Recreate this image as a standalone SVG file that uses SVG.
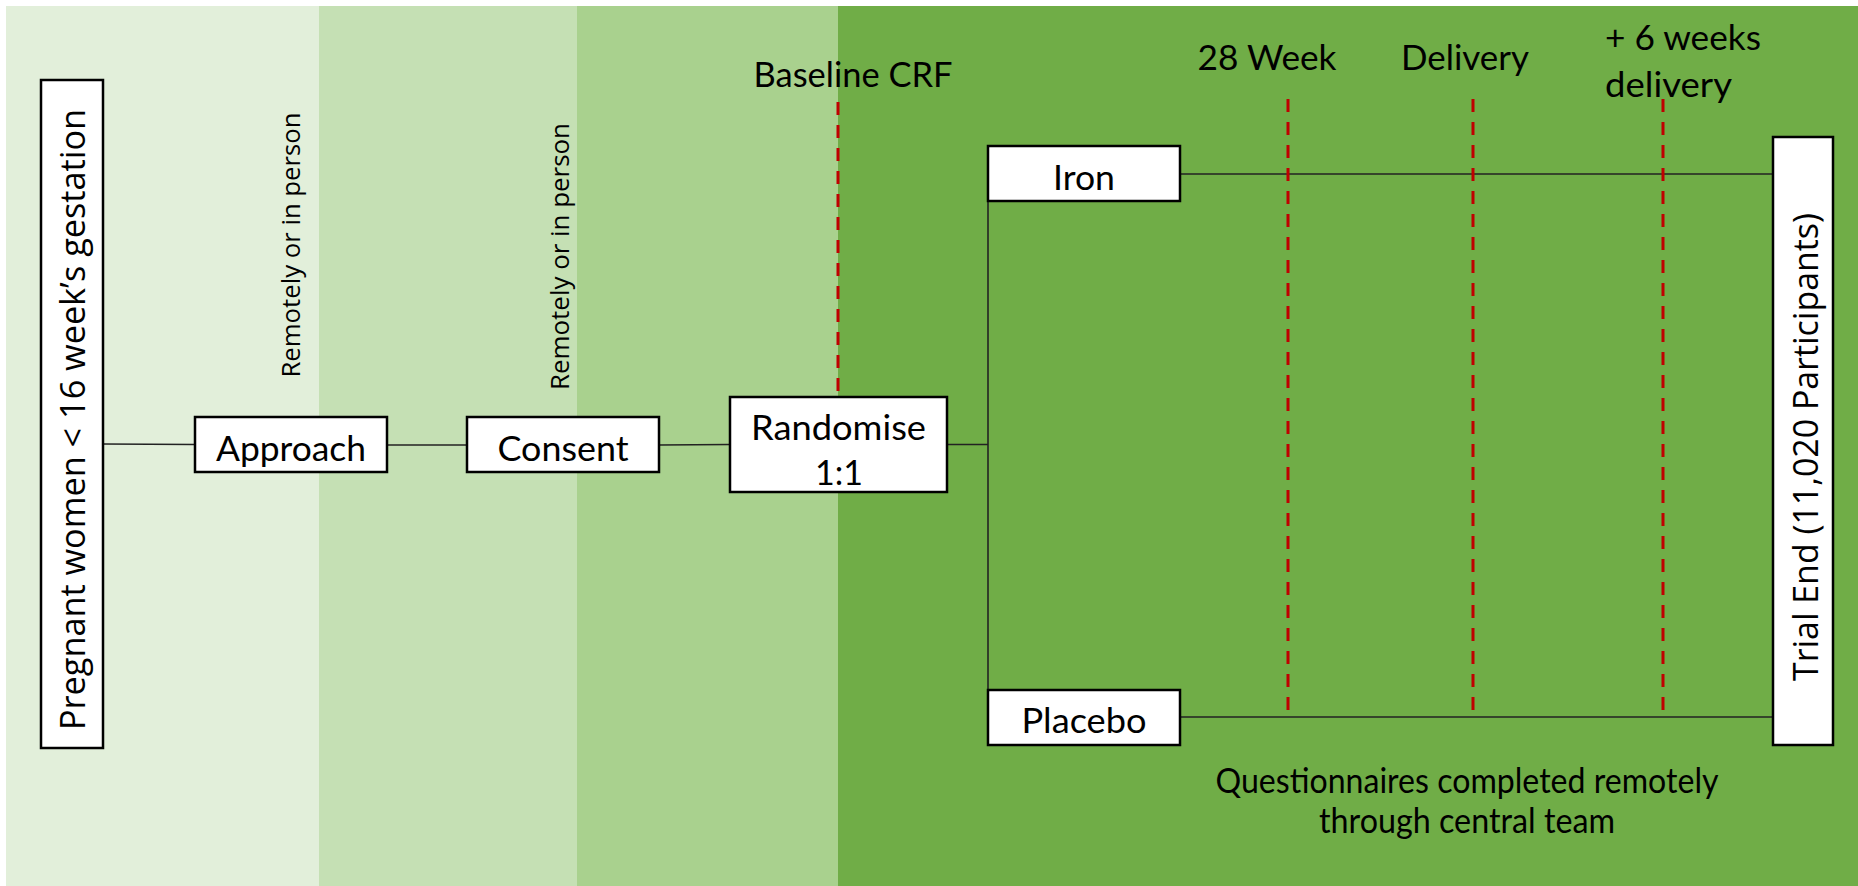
<svg xmlns="http://www.w3.org/2000/svg" width="1858" height="886" viewBox="0 0 1858 886">
<style>
.box{fill:#fff;stroke:#000;stroke-width:2.5}
.conn{stroke:#222;stroke-width:1.6;fill:none}
.dash{stroke:#C00000;stroke-width:3;stroke-dasharray:13 10;fill:none}
.lbl{font-family:Lato,"Liberation Sans",sans-serif;font-size:34px;fill:#000;text-anchor:middle}
.rot{font-family:"Open Sans","DejaVu Sans",sans-serif;fill:#000;text-anchor:middle}
</style>
<rect x="0" y="0" width="1858" height="886" fill="#fff"/>
<g id="bands">
<rect x="6" y="6" width="313" height="880" fill="#E2EFDA"/>
<rect x="319" y="6" width="258" height="880" fill="#C5E0B4"/>
<rect x="577" y="6" width="261" height="880" fill="#A9D18E"/>
<rect x="838" y="6" width="1020" height="880" fill="#70AD47"/>
</g>
<g id="connectors">
<line class="conn" x1="103" y1="444" x2="195" y2="444.5"/>
<line class="conn" x1="387" y1="445" x2="467" y2="445"/>
<line class="conn" x1="659" y1="445" x2="730" y2="444.5"/>
<line class="conn" x1="947" y1="444.5" x2="988" y2="444.5"/>
<line class="conn" x1="988" y1="201" x2="988" y2="690"/>
<line class="conn" x1="1180" y1="174" x2="1773" y2="174"/>
<line class="conn" x1="1180" y1="717" x2="1773" y2="717"/>
</g>
<g id="timepoints">
<line class="dash" x1="838" y1="102" x2="838" y2="397"/>
<line class="dash" x1="1288" y1="99" x2="1288" y2="717"/>
<line class="dash" x1="1473" y1="99" x2="1473" y2="717"/>
<line class="dash" x1="1663" y1="99" x2="1663" y2="717"/>
<text class="lbl" x="853" y="87" textLength="199" lengthAdjust="spacingAndGlyphs">Baseline CRF</text>
<text class="lbl" x="1267" y="70" textLength="139" lengthAdjust="spacingAndGlyphs">28 Week</text>
<text class="lbl" x="1465" y="70" textLength="128" lengthAdjust="spacingAndGlyphs">Delivery</text>
<text class="lbl" x="1605" y="50" style="text-anchor:start" textLength="156" lengthAdjust="spacingAndGlyphs">+ 6 weeks</text>
<text class="lbl" x="1605" y="97" style="text-anchor:start" textLength="127" lengthAdjust="spacingAndGlyphs">delivery</text>
</g>
<g id="pregnant">
<rect class="box" x="41" y="80" width="62" height="668"/>
<text class="rot" font-size="34" transform="translate(85,419.5) rotate(-90)" textLength="621" lengthAdjust="spacingAndGlyphs">Pregnant women &lt; 16 week’s gestation</text>
</g>
<g id="note1">
<text class="rot" font-size="25" transform="translate(300,245) rotate(-90)" textLength="265" lengthAdjust="spacingAndGlyphs">Remotely or in person</text>
</g>
<g id="note2">
<text class="rot" font-size="25" transform="translate(569,256.5) rotate(-90)" textLength="267" lengthAdjust="spacingAndGlyphs">Remotely or in person</text>
</g>
<g id="approach">
<rect class="box" x="195" y="417" width="192" height="55"/>
<text class="lbl" x="291" y="461" textLength="150" lengthAdjust="spacingAndGlyphs">Approach</text>
</g>
<g id="consent">
<rect class="box" x="467" y="417" width="192" height="55"/>
<text class="lbl" x="563" y="461" textLength="131" lengthAdjust="spacingAndGlyphs">Consent</text>
</g>
<g id="randomise">
<rect class="box" x="730" y="397" width="217" height="95"/>
<text class="lbl" x="838.5" y="440" textLength="175" lengthAdjust="spacingAndGlyphs">Randomise</text>
<text class="lbl" x="839" y="485" textLength="48" lengthAdjust="spacingAndGlyphs">1:1</text>
</g>
<g id="iron">
<rect class="box" x="988" y="146" width="192" height="55"/>
<text class="lbl" x="1084" y="190" textLength="62" lengthAdjust="spacingAndGlyphs">Iron</text>
</g>
<g id="placebo">
<rect class="box" x="988" y="690" width="192" height="55"/>
<text class="lbl" x="1084" y="733" textLength="125" lengthAdjust="spacingAndGlyphs">Placebo</text>
</g>
<g id="trialend">
<rect class="box" x="1773" y="137" width="60" height="608"/>
<text class="rot" font-size="34" transform="translate(1818,447) rotate(-90)" textLength="468" lengthAdjust="spacingAndGlyphs">Trial End (11,020 Participants)</text>
</g>
<g id="questionnaires">
<text class="lbl" x="1467" y="793" textLength="503" lengthAdjust="spacingAndGlyphs">Questionnaires completed remotely</text>
<text class="lbl" x="1467" y="833" textLength="296" lengthAdjust="spacingAndGlyphs">through central team</text>
</g>
</svg>
